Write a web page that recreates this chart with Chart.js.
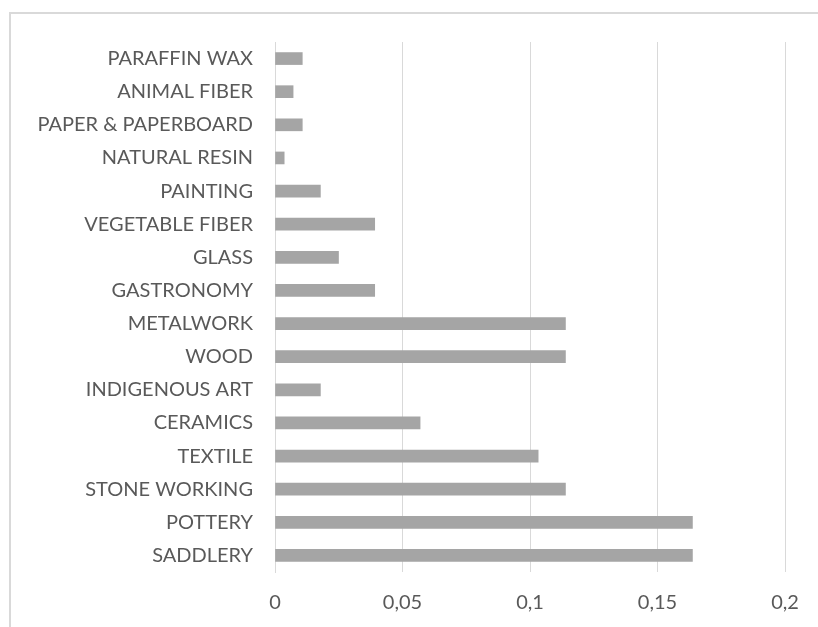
<!DOCTYPE html>
<html>
<head>
<meta charset="utf-8">
<script src="https://cdn.jsdelivr.net/npm/chart.js@4/dist/chart.umd.min.js"></script>
<style>
    html, body { margin: 0; padding: 0; background: #fff; overflow: hidden; }
    body { width: 818px; height: 627px; position: relative; }
    .frame {
        position: absolute; left: 9px; top: 12px; width: 830px; height: 640px;
        border: 2px solid #d9d9d9; box-sizing: border-box;
    }
    #chart { position: absolute; left: 0; top: 0; }
</style>
</head>
<body>
<div class="frame"></div>
<canvas id="chart" width="818" height="627"></canvas>
<script>
// Categories listed from top to bottom
const categories = [
    'PARAFFIN WAX', 'ANIMAL FIBER', 'PAPER & PAPERBOARD', 'NATURAL RESIN',
    'PAINTING', 'VEGETABLE FIBER', 'GLASS', 'GASTRONOMY', 'METALWORK', 'WOOD',
    'INDIGENOUS ART', 'CERAMICS', 'TEXTILE', 'STONE WORKING', 'POTTERY', 'SADDLERY'
];
const shares = [
    0.0107, 0.0071, 0.0107, 0.0036,
    0.0178, 0.0391, 0.0249, 0.0391, 0.1139, 0.1139,
    0.0178, 0.0569, 0.1032, 0.1139, 0.1637, 0.1637
];
const xTicks = [0, 0.05, 0.1, 0.15, 0.2];

const labelFont = { family: 'Lato', size: 20 };
const textColor = '#595959';
const gridColor = '#d9d9d9';

const ctx = document.getElementById('chart').getContext('2d');

new Chart(ctx, {
    type: 'bar',
    data: {
        labels: categories,
        datasets: [{
            data: shares,
            backgroundColor: '#a5a5a5',
            borderWidth: 0,
            barThickness: 12
        }]
    },
    options: {
        indexAxis: 'y',
        responsive: false,
        animation: false,
        layout: { padding: { left: 0, right: 33, top: 42, bottom: 0 } },
        plugins: {
            legend: { display: false },
            tooltip: { enabled: false }
        },
        scales: {
            x: {
                min: 0,
                max: 0.2,
                afterBuildTicks: scale => {
                    scale.ticks = xTicks.map(v => ({ value: v }));
                },
                afterFit: scale => { scale.height = 55; },
                grid: { color: gridColor, lineWidth: 1, drawTicks: false },
                border: { display: false },
                ticks: {
                    padding: 19,
                    color: textColor,
                    font: labelFont,
                    callback: value => String(value).replace('.', ',')
                }
            },
            y: {
                afterFit: scale => { scale.width = 275; },
                grid: { display: false, drawTicks: false },
                border: { display: true, color: gridColor, width: 1 },
                ticks: {
                    padding: 22,
                    color: textColor,
                    font: labelFont
                }
            }
        }
    }
});
</script>
</body>
</html>
